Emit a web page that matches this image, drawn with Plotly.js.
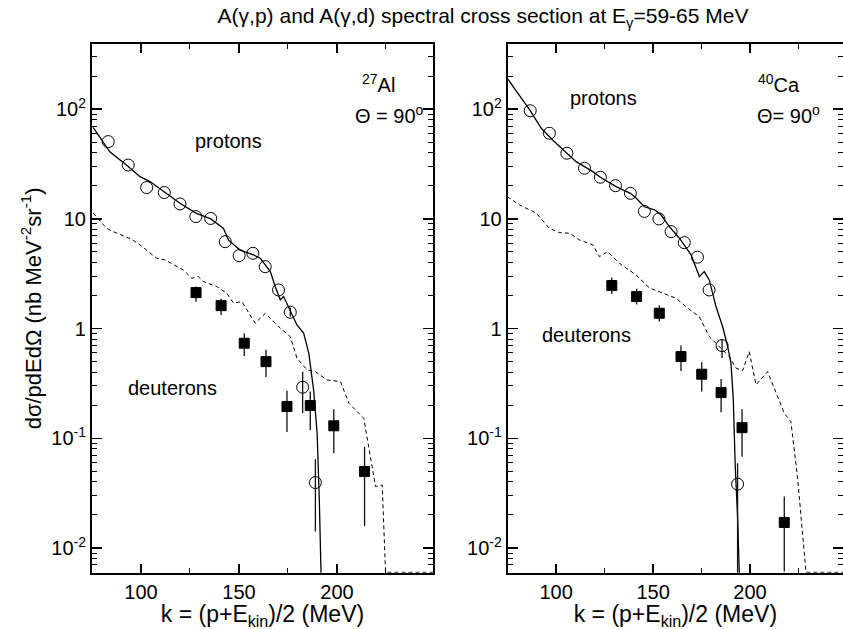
<!DOCTYPE html>
<html><head><meta charset="utf-8">
<script src="https://cdn.plot.ly/plotly-3.0.1.min.js"></script>
<style>html,body{margin:0;padding:0;background:#fff}#chart{width:843px;height:630px}</style>
</head><body><div id="chart"></div>
<script>
// ---- 27Al (left panel) ----
const alProtK = [83.3, 93.5, 102.9, 111.9, 119.9, 128.0, 135.6, 143.0, 150.1, 157.1, 163.4, 170.2, 176.2, 182.5, 189.0];
const alProtV = [50.7, 31.0, 19.3, 17.4, 13.7, 10.5, 10.1, 6.2, 4.63, 4.86, 3.67, 2.25, 1.41, 0.292, 0.0395];
const alProtErrUp = [0,0,0,0,0,0,0,0,0,0,0,0,0.15,0.113,0.025];
const alProtErrDn = [0,0,0,0,0,0,0,0,0,0,0,0,0.12,0.122,0.0254];

const alDeutK = [128.1, 140.9, 152.7, 163.8, 174.5, 186.4, 198.4, 214.1];
const alDeutV = [2.13, 1.62, 0.736, 0.50, 0.195, 0.199, 0.130, 0.0498];
const alDeutErrUp = [0.29, 0.25, 0.172, 0.14, 0.077, 0.068, 0.054, 0.034];
const alDeutErrDn = [0.37, 0.29, 0.173, 0.14, 0.081, 0.080, 0.057, 0.034];

const alThProtK = [75.6, 84.1, 93.5, 99.5, 104.6, 111.9, 119.9, 128.0, 135.6, 142.1, 144.7, 150.6, 157.4, 160.9, 164.3, 166.0, 168.5, 171.1, 172.8, 176.2, 179.6, 183.0, 185.6, 188.1, 189.9, 191.0, 191.9];
const alThProtV = [68.5, 40.9, 30.0, 24.3, 21.9, 17.7, 13.9, 11.3, 10.0, 8.2, 6.4, 5.2, 4.7, 4.38, 3.67, 3.31, 2.42, 1.83, 1.96, 1.48, 1.08, 0.91, 0.60, 0.276, 0.111, 0.0275, 0.0058];

const alThDeutK = [75.6, 82.5, 85.8, 95.2, 99.5, 108.0, 112.3, 121.6, 125.9, 129.3, 131.9, 138.7, 143.8, 147.2, 151.5, 155.8, 158.3, 163.4, 171.1, 176.2, 179.6, 184.8, 189.0, 195.0, 201.8, 206.1, 213.7, 219.7, 223.1, 224.8, 249];
const alThDeutV = [11.3, 8.2, 7.66, 6.53, 5.8, 4.38, 4.23, 3.43, 2.88, 2.98, 2.68, 2.42, 2.10, 1.71, 1.76, 1.33, 1.12, 1.38, 1.01, 0.845, 0.537, 0.42, 0.405, 0.34, 0.329, 0.209, 0.152, 0.0363, 0.0376, 0.006, 0.006];

// ---- 40Ca (right panel) ----
const caProtK = [86.6, 96.5, 105.5, 114.6, 122.8, 130.6, 138.3, 145.5, 153.0, 159.3, 166.1, 172.9, 178.9, 185.6, 193.6];
const caProtV = [97, 60.4, 39.7, 29.0, 24.0, 20.1, 17.1, 11.7, 10.0, 7.66, 6.08, 4.48, 2.25, 0.70, 0.0382];
const caProtErrUp = [0,0,0,0,0,0,0,0,0,0,0,0,0,0.10,0.021];
const caProtErrDn = [0,0,0,0,0,0,0,0,0,0,0,0,0,0.16,0.033];

const caDeutK = [128.7, 141.5, 153.2, 164.4, 175.1, 185.1, 195.9, 217.7];
const caDeutV = [2.47, 1.96, 1.38, 0.556, 0.384, 0.261, 0.125, 0.0171];
const caDeutErrUp = [0.45, 0.35, 0.25, 0.144, 0.11, 0.086, 0.059, 0.0123];
const caDeutErrDn = [0.40, 0.30, 0.22, 0.145, 0.117, 0.088, 0.057, 0.011];

const caThProtK = [74.7, 80.2, 86.6, 92.3, 98.2, 105.5, 110.3, 114.6, 118.9, 122.8, 130.9, 138.3, 141.2, 145.5, 150.7, 154.1, 158.4, 163.6, 169.6, 173.9, 176.4, 179.0, 182.5, 185.9, 188.5, 190.2, 191.4, 192.4, 193.6, 194.5];
const caThProtV = [192, 140, 97, 67.1, 52.5, 39.7, 33.3, 30, 27, 24, 19.7, 17.1, 15.5, 12.9, 12.1, 10.9, 8.5, 6.67, 4.7, 2.98, 3.31, 2.78, 1.58, 1.04, 0.686, 0.484, 0.224, 0.0552, 0.0193, 0.0058];

const caThDeutK = [74.7, 81.1, 89.7, 96.5, 101.7, 106.9, 112.0, 118.9, 122.3, 126.6, 132.6, 141.2, 148.1, 155.0, 161.9, 167.0, 173.9, 179.0, 184.2, 189.3, 192.8, 196.2, 199.6, 203.1, 209.1, 214.2, 217.7, 221.1, 224.5, 228.9, 249];
const caThDeutV = [16.0, 13.4, 11.3, 8.2, 7.5, 7.4, 6.44, 5.8, 4.53, 5.04, 3.94, 3.09, 2.35, 2.10, 1.89, 1.58, 1.28, 0.846, 0.686, 0.556, 0.436, 0.414, 0.617, 0.307, 0.406, 0.240, 0.169, 0.142, 0.0448, 0.006, 0.006];

// ---- axis ticks ----
const xTickVals = [100, 150, 200];
const xTickText = ['100', '150', '200'];
const yTickVals = [0.01, 0.1, 1, 10, 100];
const yTickText = ['10<sup>-2</sup>', '10<sup>-1</sup>', '1', '10', '10<sup>2</sup>'];

const FONT = 'Liberation Sans, Arial, sans-serif';

function expTrace(x, y, up, dn, symbol, xa, ya) {
  return {x: x, y: y, xaxis: xa, yaxis: ya, type: 'scatter', mode: 'markers',
    marker: {symbol: symbol, size: symbol === 'circle-open' ? 12 : 10, color: '#000', line: {color: '#000', width: 1}},
    error_y: {type: 'data', symmetric: false, array: up, arrayminus: dn, color: '#111', thickness: 1.3, width: 0},
    showlegend: false, cliponaxis: true};
}
function lineTrace(x, y, dash, xa, ya) {
  return {x: x, y: y, xaxis: xa, yaxis: ya, type: 'scatter', mode: 'lines',
    line: {color: '#000', width: dash ? 1 : 1.3, dash: dash ? '4px,3px' : 'solid'}, showlegend: false};
}

const data = [
  lineTrace(alThProtK, alThProtV, false, 'x', 'y'),
  lineTrace(alThDeutK, alThDeutV, true, 'x', 'y'),
  expTrace(alProtK, alProtV, alProtErrUp, alProtErrDn, 'circle-open', 'x', 'y'),
  expTrace(alDeutK, alDeutV, alDeutErrUp, alDeutErrDn, 'square', 'x', 'y'),
  lineTrace(caThProtK, caThProtV, false, 'x2', 'y2'),
  lineTrace(caThDeutK, caThDeutV, true, 'x2', 'y2'),
  expTrace(caProtK, caProtV, caProtErrUp, caProtErrDn, 'circle-open', 'x2', 'y2'),
  expTrace(caDeutK, caDeutV, caDeutErrUp, caDeutErrDn, 'square', 'x2', 'y2'),
];

const xBase = {
  showline: true, linewidth: 2, linecolor: '#000', mirror: 'allticks', zeroline: false, showgrid: false,
  tickmode: 'array', tickvals: xTickVals, ticktext: xTickText,
  ticks: 'inside', ticklen: 9, tickwidth: 1.5, tickcolor: '#000',
  minor: {tickmode: 'linear', tick0: 75, dtick: 25, ticks: 'inside', ticklen: 5, tickwidth: 1, tickcolor: '#000', showgrid: false},
  tickfont: {family: FONT, size: 20, color: '#000'},
  title: {text: 'k = (p+E<sub>kin</sub>)/2 (MeV)', font: {family: FONT, size: 23, color: '#000'}, standoff: 1},
  automargin: false
};
const yBase = {
  type: 'log', range: [-2.225, 2.595], domain: [0.0910, 0.9302],
  showline: true, linewidth: 2, linecolor: '#000', mirror: 'allticks', zeroline: false, showgrid: false,
  tickmode: 'array', tickvals: yTickVals, ticktext: yTickText,
  ticks: 'inside', ticklen: 10, tickwidth: 1.5, tickcolor: '#000',
  minor: {dtick: 'D1', ticks: 'inside', ticklen: 5, tickwidth: 1, tickcolor: '#000', showgrid: false},
  tickfont: {family: FONT, size: 20, color: '#000'},
  automargin: false
};

const layout = {
  width: 843, height: 630,
  margin: {l: 0, r: 0, t: 0, b: 0},
  paper_bgcolor: '#fff', plot_bgcolor: '#fff',
  font: {family: FONT, color: '#000'},
  title: {text: 'A(γ,p) and A(γ,d) spectral cross section at E<sub>γ</sub>=59-65 MeV',
    font: {family: FONT, size: 21, color: '#000'}, x: 0.573, xanchor: 'center', xref: 'paper', y: 0.975, yanchor: 'middle', yref: 'paper'},
  xaxis: Object.assign({}, xBase, {domain: [0.1091, 0.5136], range: [75, 249], anchor: 'y'}),
  xaxis2: Object.assign({}, xBase, {domain: [0.6023, 1.0], range: [75, 248], anchor: 'y2'}),
  yaxis: Object.assign({}, yBase, {anchor: 'x',
    title: {text: 'dσ/pdEdΩ (nb MeV<sup>-2</sup>sr<sup>-1</sup>)', font: {family: FONT, size: 22, color: '#000'}, standoff: 4}}),
  yaxis2: Object.assign({}, yBase, {anchor: 'x2'}),
  annotations: [
    {xref: 'x', yref: 'y', x: 144.8, y: 1.711, text: 'protons', showarrow: false, font: {size: 20}},
    {xref: 'x', yref: 'y', x: 115.9, y: -0.541, text: 'deuterons', showarrow: false, font: {size: 20}},
    {xref: 'x', yref: 'y', x: 221.2, y: 2.231, text: '<sup>27</sup>Al', showarrow: false, font: {size: 20}},
    {xref: 'x', yref: 'y', x: 226.9, y: 1.948, text: 'Θ = 90<sup>o</sup>', showarrow: false, font: {size: 20}},
    {xref: 'x2', yref: 'y2', x: 124.4, y: 2.103, text: 'protons', showarrow: false, font: {size: 20}},
    {xref: 'x2', yref: 'y2', x: 115.9, y: -0.057, text: 'deuterons', showarrow: false, font: {size: 20}},
    {xref: 'x2', yref: 'y2', x: 215.1, y: 2.231, text: '<sup>40</sup>Ca', showarrow: false, font: {size: 20}},
    {xref: 'x2', yref: 'y2', x: 219.7, y: 1.948, text: 'Θ= 90<sup>o</sup>', showarrow: false, font: {size: 20}}
  ]
};

Plotly.newPlot('chart', data, layout, {staticPlot: true, displayModeBar: false});
</script>
</body></html>
